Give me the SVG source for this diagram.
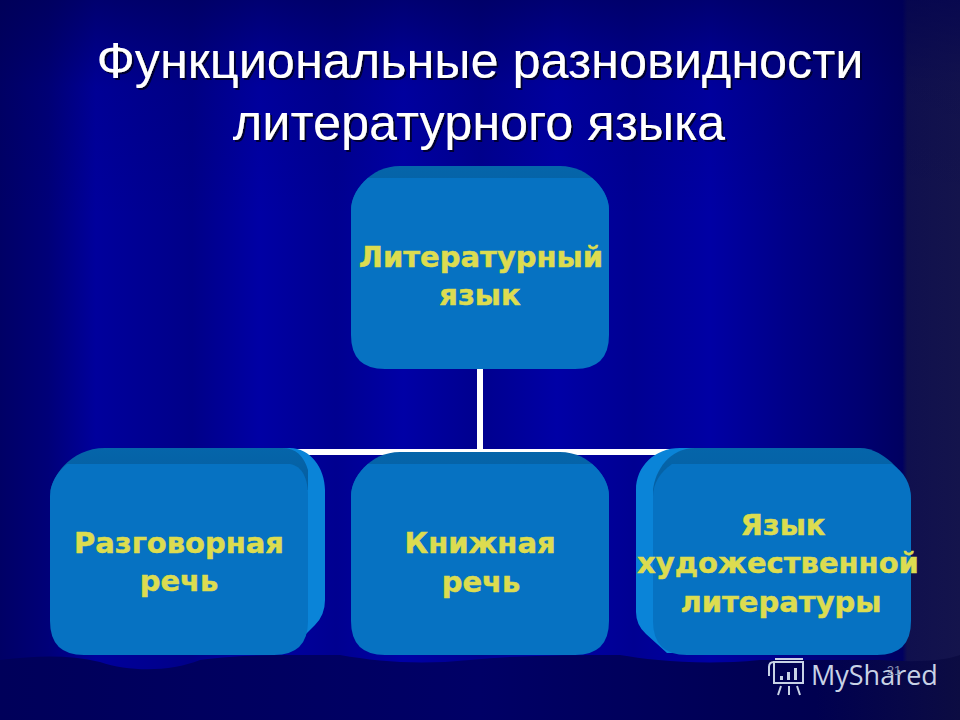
<svg xmlns="http://www.w3.org/2000/svg" width="960" height="720" viewBox="0 0 960 720">
<defs>
<linearGradient id="bg" x1="0" x2="1" y1="0" y2="0">
<stop offset="0" stop-color="#000066"/><stop offset="0.05" stop-color="#000078"/><stop offset="0.1" stop-color="#00009c"/><stop offset="0.2" stop-color="#000088"/><stop offset="0.27" stop-color="#0000a4"/><stop offset="0.35" stop-color="#000090"/><stop offset="0.42" stop-color="#0000a6"/><stop offset="0.5" stop-color="#00008e"/><stop offset="0.58" stop-color="#0000a6"/><stop offset="0.66" stop-color="#000092"/><stop offset="0.74" stop-color="#0000a4"/><stop offset="0.82" stop-color="#000088"/><stop offset="0.9" stop-color="#000070"/><stop offset="0.94" stop-color="#000060"/><stop offset="0.945" stop-color="#10104e"/><stop offset="1" stop-color="#14144c"/>
</linearGradient>
<linearGradient id="top" x1="0" x2="0" y1="0" y2="1">
<stop offset="0" stop-color="#000050" stop-opacity="0.6"/><stop offset="0.12" stop-color="#000050" stop-opacity="0.1"/><stop offset="0.3" stop-color="#000050" stop-opacity="0"/>
</linearGradient>
<linearGradient id="bottom" x1="0" x2="1" y1="0" y2="0">
<stop offset="0" stop-color="#00005a"/><stop offset="0.5" stop-color="#000066"/><stop offset="0.85" stop-color="#000050"/><stop offset="1" stop-color="#0c0c42"/>
</linearGradient>
<linearGradient id="bevel" x1="0" x2="0" y1="0" y2="1">
<stop offset="0" stop-color="#0565aa"/><stop offset="1" stop-color="#055c9e"/>
</linearGradient>
<filter id="ts" x="-5%" y="-5%" width="110%" height="115%">
<feDropShadow dx="2" dy="2" stdDeviation="0.6" flood-color="#000030"/>
</filter>
<style>
.title{font-family:"Liberation Sans",Arial,sans-serif;font-size:50.4px;fill:#fff;text-anchor:middle}
.label{font-family:"DejaVu Sans",Verdana,sans-serif;font-size:29px;font-weight:bold;fill:#dcdc50;stroke:#dcdc50;stroke-width:0.5;text-anchor:middle}
.face{fill:#0672c2}.back{fill:#0a84d8}.topf{fill:url(#bevel)}
.conn{stroke:#fff;stroke-width:6;fill:none}
</style>
</defs>
<rect width="960" height="720" fill="url(#bg)"/>
<rect width="960" height="720" fill="url(#top)"/>
<path d="M0 660 C40 655 70 655 100 662 C130 672 170 672 200 660 C240 655 270 655 300 655 L340 655 C380 662 420 665 470 660 C520 655 570 655 620 655 C650 660 700 666 760 660 L880 660 C910 662 940 662 960 655 L960 720 L0 720 Z" fill="url(#bottom)"/>
<g id="connectors">
<path class="conn" d="M480 366V452"/>
<path class="conn" d="M180 452H780"/>
</g>
<g id="title" filter="url(#ts)">
<text class="title" x="480" y="78">Функциональные разновидности</text>
<text class="title" x="479" y="140">литературного языка</text>
</g>
<g id="node-literary">
<path class="topf" d="M351 210C351 192 370 166 400 166H560C590 166 609 192 609 210V240H351Z"/>
<path class="face" d="M351 210C351 198 358 186 368 178H592C602 186 609 198 609 210V335Q609 369 575 369H385Q351 369 351 335Z"/>
<text class="label" x="481" y="267">Литературный</text>
<text class="label" x="480" y="305">язык</text>
</g>
<g id="node-spoken">
<path class="back" d="M270 448H290C310 448 325 468 325 490V600Q325 615 315 625L290 650V480Z"/>
<path class="topf" d="M50 496C50 478 70 448 105 448H282C296 448 304 456 308 470V490H50Z"/>
<path class="face" d="M50 496C50 484 57 472 67 464H290C302 466 308 478 308 496V621Q308 655 274 655H84Q50 655 50 621Z"/>
<text class="label" x="179" y="553">Разговорная</text>
<text class="label" x="179" y="591">речь</text>
</g>
<g id="node-book">
<path class="topf" d="M351 496C351 478 370 452 400 452H560C590 452 609 478 609 496V520H351Z"/>
<path class="face" d="M351 496C351 484 358 472 368 464H592C602 472 609 484 609 496V621Q609 655 575 655H385Q351 655 351 621Z"/>
<text class="label" x="480" y="553">Книжная</text>
<text class="label" x="481" y="592">речь</text>
</g>
<g id="node-fiction">
<path class="back" d="M680 448C655 448 636 466 636 490V612Q636 625 646 634L667 653H700V448Z"/>
<path class="topf" d="M653 490C655 470 670 448 695 448H860C885 448 911 478 911 500V520H653Z"/>
<path class="face" d="M653 496C653 484 660 472 672 464H892C904 472 911 484 911 498V621Q911 655 877 655H687Q653 655 653 621Z"/>
<text class="label" x="783" y="535">Язык</text>
<text class="label" x="778" y="573">художественной</text>
<text class="label" x="781" y="612">литературы</text>
</g>
<g id="watermark">
<g fill="none" stroke="#c8d2e6" stroke-width="2">
<path d="M774 662H803V683H774ZM774 662Q769 662 769 667V676M775 659H803"/>
<path d="M781 686L778 695M789 686V695M797 686L800 695"/>
</g>
<path d="M780 676h3v4h-3zM787 672h3v8h-3zM794 668h3v12h-3z" fill="#c8d2e6"/>
<text x="811" y="685" font-family="Open Sans,DejaVu Sans,sans-serif" font-size="27" fill="#c8d2e6">MyShared</text>
<text x="894" y="675" font-family="Liberation Sans,sans-serif" font-size="13" fill="#8890b0" text-anchor="middle">21</text>
</g>
</svg>
